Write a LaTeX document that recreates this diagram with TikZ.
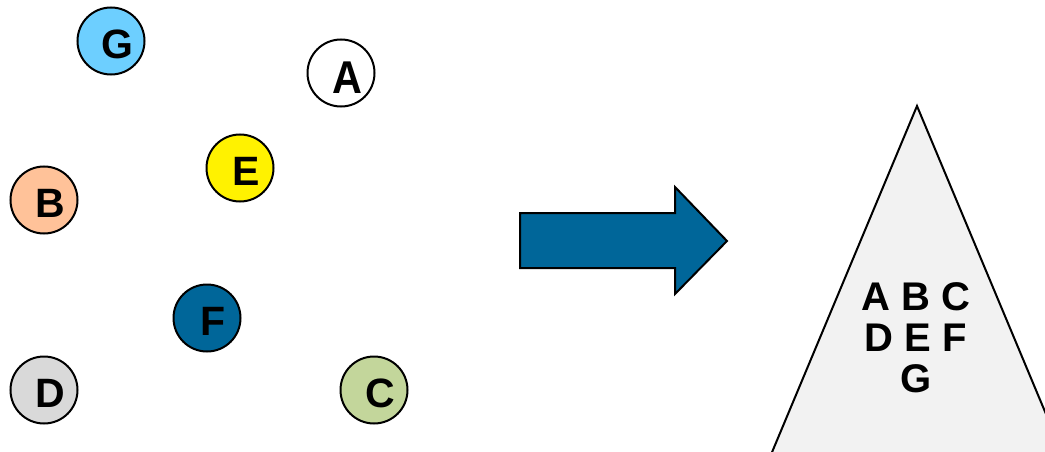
\documentclass[tikz,border=0pt]{standalone}
\usepackage{fontspec}
\setmainfont{Liberation Sans}
\definecolor{skyball}{HTML}{6DCFFF}
\definecolor{peachball}{HTML}{FFC299}
\definecolor{sageball}{HTML}{C3D69B}
\definecolor{greyball}{HTML}{D9D9D9}
\definecolor{deepblue}{HTML}{006699}
\definecolor{heapfill}{HTML}{F2F2F2}
\begin{document}
\begin{tikzpicture}[x=1pt,y=-1pt,
    ball/.style={circle,draw,line width=2pt,minimum size=67pt,inner sep=0pt},
    lbl/.style={font=\fontsize{41}{41}\selectfont\bfseries,xshift=6pt,yshift=-3pt}]
  \useasboundingbox (0,0) rectangle (1045,452);
  % loose elements
  \node[ball,fill=skyball,label={[lbl]center:G}] (g) at (111,41) {};
  \node[ball,fill=white,label={[lbl,font=\fontsize{46}{46}\selectfont\bfseries,xscale=0.9,yshift=-2pt]center:A}] (a) at (341,73) {};
  \node[ball,fill=yellow,label={[lbl]center:E}] (e) at (240,168) {};
  \node[ball,fill=peachball,label={[lbl]center:B}] (b) at (44,200) {};
  \node[ball,fill=deepblue,label={[lbl]center:F}] (f) at (207,318) {};
  \node[ball,fill=greyball,label={[lbl]center:D}] (d) at (44,390) {};
  \node[ball,fill=sageball,label={[lbl]center:C}] (c) at (374,390) {};
  % block arrow
  \draw[line width=2pt,fill=deepblue] (520,213) -- (675,213) -- (675,187) -- (727,241)
    -- (675,294) -- (675,268) -- (520,268) -- cycle;
  % the heap
  \begin{scope}
    \clip (0,0) rectangle (1045,452);
    \draw[line width=2pt,fill=heapfill] (917,106) -- (1082,500) -- (752,500) -- cycle;
  \end{scope}
  \node[align=center,font=\fontsize{40}{41}\selectfont\bfseries] (heap) at (916,338)
    {A B C\\D E F\\G};
\end{tikzpicture}
\end{document}
